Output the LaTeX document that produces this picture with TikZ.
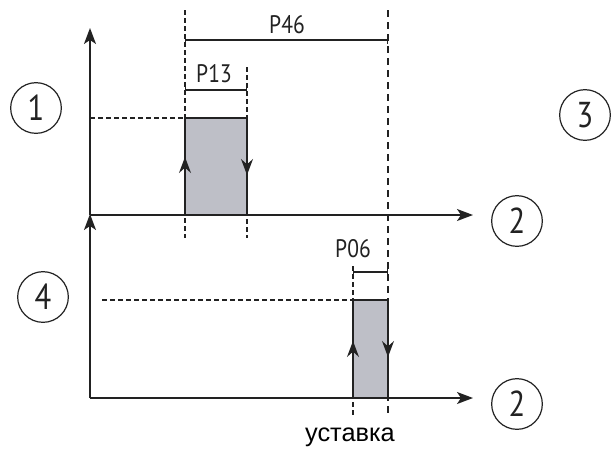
\documentclass[tikz,border=0pt]{standalone}
\usepackage{fontspec}
\setmainfont{Liberation Sans}
\newfontfamily\lblfont[FakeStretch=0.85]{PT Sans}
\usetikzlibrary{arrows.meta,positioning}
\definecolor{ink}{HTML}{222222}
\definecolor{barfill}{HTML}{BEBFC7}

\begin{document}
\begin{tikzpicture}[x=0.75pt,y=-0.75pt,
   axis/.style={draw=ink,line width=1.1pt,-{Stealth[length=12pt,width=9pt,inset=3pt]}},
   edge/.style={draw=ink,line width=1.1pt},
   tip/.style={draw=ink,line width=1.1pt,-{Stealth[length=12pt,width=9pt,inset=4pt]}},
   guide/.style={draw=ink,line width=0.8pt,dash pattern=on 3.5pt off 2.5pt},
   longguide/.style={draw=ink,line width=0.8pt,dash pattern=on 5.5pt off 3.5pt},
   dim/.style={draw=ink,line width=1pt,{Bar[width=6pt]}-{Bar[width=6pt]}},
   dimlbl/.style={font=\lblfont\fontsize{19}{21}\selectfont,inner sep=0pt,text=ink},
   circmark/.style={draw=ink,line width=0.9pt,circle,minimum size=38pt,inner sep=0pt,
              font=\lblfont\fontsize{27}{29}\selectfont,text=ink}]
  \useasboundingbox (0,0) rectangle (612,455);
  % axes
  \coordinate (o1) at (90,215);
  \coordinate (o2) at (90,398);
  \coordinate (y1) at (90,28);
  \coordinate (x1) at (473,215);
  \coordinate (x2) at (473,398);
  % pulses
  \coordinate (p1bl) at (185,215);
  \coordinate (p1tl) at (185,118);
  \coordinate (p1tr) at (247,118);
  \coordinate (p1br) at (247,215);
  \coordinate (p2bl) at (353,398);
  \coordinate (p2tl) at (353,300);
  \coordinate (p2tr) at (388,300);
  \coordinate (p2br) at (388,398);
  \fill[barfill] (p1bl) rectangle (p1tr);
  \fill[barfill] (p2bl) rectangle (p2tr);
  % guides
  \coordinate (g1a) at (185,10);   \coordinate (g1b) at (185,238);
  \coordinate (g2a) at (247,67);   \coordinate (g2b) at (247,238);
  \coordinate (g3a) at (388,10);   \coordinate (g3b) at (388,416);
  \coordinate (g4a) at (353,266);  \coordinate (g4b) at (353,416);
  \coordinate (h1a) at (90,118);
  \coordinate (h2a) at (102,300);
  \draw[guide] (g1a) -- (g1b);
  \draw[guide] (g2a) -- (g2b);
  \draw[longguide] (g3a) -- (g3b);
  \draw[guide] (g4a) -- (g4b);
  \draw[guide] (h1a) -- (p1tl);
  \draw[guide] (h2a) -- (p2tl);
  % pulse outlines
  \draw[edge] (p1bl) -- (p1tl) -- (p1tr) -- (p1br);
  \draw[edge] (p2bl) -- (p2tl) -- (p2tr) -- (p2br);
  \draw[tip] (p1bl) -- (185,157);
  \draw[tip] (p1tr) -- (247,175);
  \draw[tip] (p2bl) -- (353,341);
  \draw[tip] (p2tr) -- (388,357);
  % axes on top
  \draw[axis] (o1) -- (y1);
  \draw[axis] (o2) -- (90,214);
  \draw[axis] (o1) -- (x1);
  \draw[axis] (o2) -- (x2);
  % dimensions
  \coordinate (d46a) at (185,40);  \coordinate (d46b) at (388,40);
  \coordinate (d13a) at (185,90);  \coordinate (d13b) at (247,90);
  \coordinate (d06a) at (353,272); \coordinate (d06b) at (388,272);
  \draw[dim] (d46a) -- (d46b);
  \draw[dim] (d13a) -- (d13b);
  \draw[dim] (d06a) -- (d06b);
  \node[dimlbl] (l46) at (287,25) {P46};
  \node[dimlbl] (l13) at (214,74) {P13};
  \node[dimlbl] (l06) at (353,249) {P06};
  % circled marks
  \node[circmark] (m1) at (36,108) {1};
  \node[circmark] (m3) at (585,115) {3};
  \node[circmark] (m2a) at (517,221) {2};
  \node[circmark] (m2b) at (517,404) {2};
  \node[circmark] (m4) at (43,297) {4};
  \node[font=\fontsize{19}{22}\selectfont,inner sep=0pt] (set) at (350,437) {уставка};
\end{tikzpicture}
\end{document}
